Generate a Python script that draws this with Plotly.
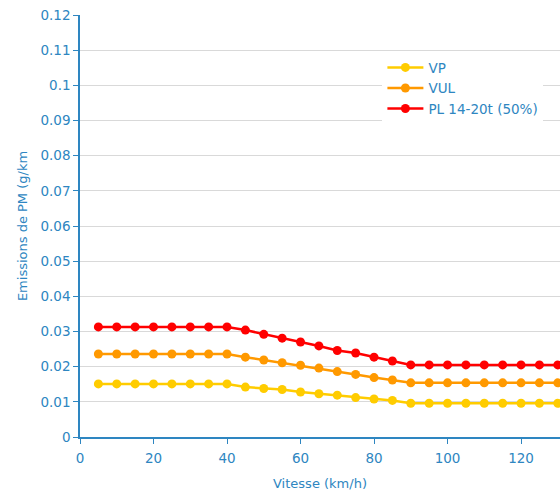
import plotly.graph_objects as go

# Vehicle speed (km/h)
vitesse = [5, 10, 15, 20, 25, 30, 35, 40, 45, 50, 55, 60, 65, 70, 75, 80, 85, 90,
           95, 100, 105, 110, 115, 120, 125, 130]

# PM emission factors (g/km)
vp = [0.0151, 0.0151, 0.0151, 0.0151, 0.0151, 0.0151, 0.0151, 0.0151, 0.0142, 0.0138,
      0.0135, 0.0128, 0.0123, 0.0119, 0.0112, 0.0108, 0.0104, 0.0096, 0.0096, 0.0096,
      0.0096, 0.0096, 0.0096, 0.0096, 0.0096, 0.0096]
vul = [0.0236, 0.0236, 0.0236, 0.0236, 0.0236, 0.0236, 0.0236, 0.0236, 0.0227, 0.0219,
       0.0211, 0.0204, 0.0196, 0.0186, 0.0178, 0.0169, 0.0162, 0.0154, 0.0154, 0.0154,
       0.0154, 0.0154, 0.0154, 0.0154, 0.0154, 0.0154]
pl = [0.0313, 0.0313, 0.0313, 0.0313, 0.0313, 0.0313, 0.0313, 0.0313, 0.0304, 0.0292,
      0.0281, 0.0270, 0.0259, 0.0246, 0.0239, 0.0227, 0.0216, 0.0205, 0.0205, 0.0205,
      0.0205, 0.0205, 0.0205, 0.0205, 0.0205, 0.0205]

series = [("VP", vp, "#FFCC00"), ("VUL", vul, "#FF9900"), ("PL 14-20t (50%)", pl, "#FF0000")]

axis_blue = "#2E86C1"
font_family = "DejaVu Sans"

fig = go.Figure()
for name, vals, col in series:
    fig.add_trace(go.Scatter(
        x=vitesse, y=vals, name=name, mode="lines+markers",
        line=dict(color=col, width=2.5),
        marker=dict(color=col, size=9),
        cliponaxis=False,
    ))

fig.update_layout(
    width=560, height=498,
    margin=dict(l=80, r=0, t=15, b=61),
    paper_bgcolor="white", plot_bgcolor="white",
    font=dict(family=font_family, size=13, color=axis_blue),
    showlegend=True,
    legend=dict(
        x=0.63, y=0.912, xanchor="left", yanchor="top",
        bgcolor="white", font=dict(size=13.5, color=axis_blue),
        tracegroupgap=0, itemwidth=36,
    ),
    xaxis=dict(
        range=[0, 130.6], tickvals=[0, 20, 40, 60, 80, 100, 120],
        tickfont=dict(size=13.5), ticklabelstandoff=3,
        showgrid=False, zeroline=False,
        showline=True, linecolor=axis_blue, linewidth=1.5,
        ticks="outside", ticklen=5, tickcolor=axis_blue,
        title=dict(text="Vitesse (km/h)", font=dict(size=13, color=axis_blue), standoff=14),
    ),
    yaxis=dict(
        range=[0, 0.12], tickvals=[i / 100 for i in range(13)],
        ticktext=["0", "0.01", "0.02", "0.03", "0.04", "0.05", "0.06", "0.07",
                  "0.08", "0.09", "0.1", "0.11", "0.12"],
        tickfont=dict(size=13.5),
        showgrid=True, gridcolor="#D9D9D9", gridwidth=1, zeroline=False,
        showline=True, linecolor=axis_blue, linewidth=1.5,
        ticks="outside", ticklen=5, tickcolor=axis_blue,
        title=dict(text="Emissions de PM (g/km", font=dict(size=13, color=axis_blue), standoff=10),
    ),
)

fig.write_html("out.html")
